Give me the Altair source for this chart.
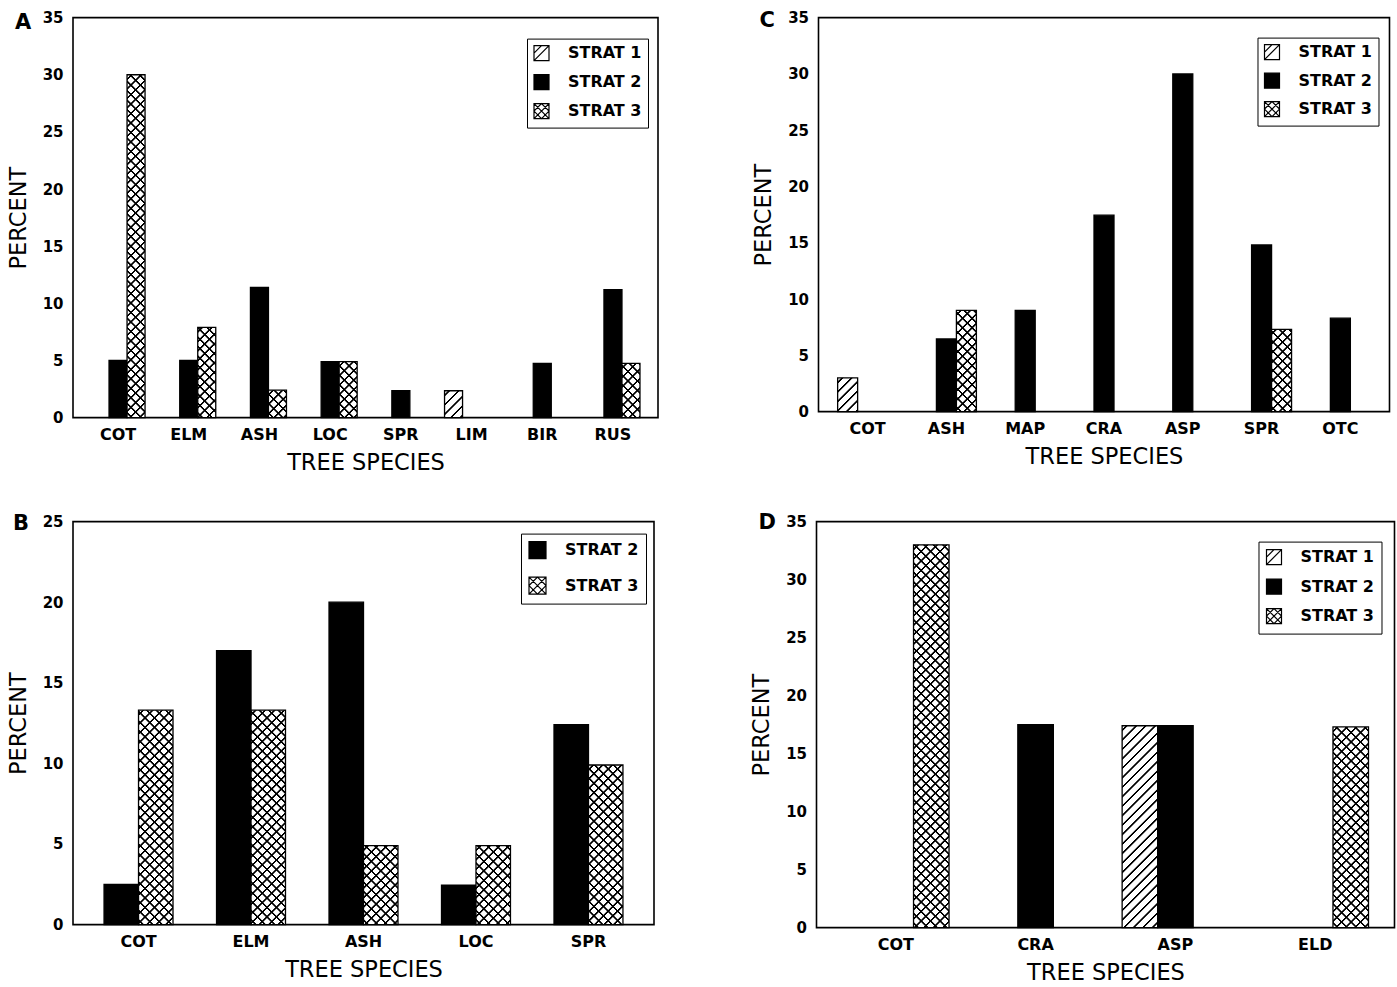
import math
import altair as alt

# ---------------- data ----------------
A_species = ["COT", "ELM", "ASH", "LOC", "SPR", "LIM", "BIR", "RUS"]
A_strat1 = [0, 0, 0, 0, 0, 2.35, 0, 0]
A_strat2 = [5.0, 5.0, 11.4, 4.9, 2.35, 0, 4.75, 11.2]
A_strat3 = [30.0, 7.9, 2.4, 4.9, 0, 0, 0, 4.75]

C_species = ["COT", "ASH", "MAP", "CRA", "ASP", "SPR", "OTC"]
C_strat1 = [3.0, 0, 0, 0, 0, 0, 0]
C_strat2 = [0, 6.45, 9.0, 17.45, 30.0, 14.8, 8.3]
C_strat3 = [0, 9.0, 0, 0, 0, 7.3, 0]

B_species = ["COT", "ELM", "ASH", "LOC", "SPR"]
B_strat2 = [2.5, 17.0, 20.0, 2.45, 12.4]
B_strat3 = [13.3, 13.3, 4.9, 4.9, 9.9]

D_species = ["COT", "CRA", "ASP", "ELD"]
D_strat1 = [0, 0, 17.4, 0]
D_strat2 = [0, 17.5, 17.4, 0]
D_strat3 = [33.0, 0, 0, 17.3]

# ---------------- styling helpers ----------------
FONT = "DejaVu Sans"
TRANSP = "rgba(0,0,0,0)"
INK = "#000000"

SYMBOL_FILL = {"STRAT 1": "white", "STRAT 2": "black", "STRAT 3": "white"}
SYMBOL_PATH = {
    "STRAT 1": "M-1,-1H1V1H-1Z M-1,1L1,-1 M-1,0L0,-1",
    "STRAT 2": "M-1,-1H1V1H-1Z",
    "STRAT 3": "M-1,-1H1V1H-1Z M-1,-1L1,1 M-1,1L1,-1 M0,-1L1,0L0,1L-1,0Z",
}


def stripes(w, h, back, period=6.7, half=0.55, ramp=0.5):
    """Linear gradient (bounding-box units) that draws 45 degree hatch lines."""
    L = (w + h) / math.sqrt(2)
    t = (w + h) / (w * w + h * h)
    if back:
        x1, y1, x2, y2 = 0.0, 1.0, t * w, 1.0 - t * h
    else:
        x1, y1, x2, y2 = 0.0, 0.0, t * w, t * h
    stops = [{"offset": 0, "color": TRANSP}]
    c = period * 0.5
    while c - half - ramp < L:
        for d, col in ((-half - ramp, TRANSP), (-half, INK), (half, INK), (half + ramp, TRANSP)):
            o = min(max((c + d) / L, 0.0), 1.0)
            stops.append({"offset": round(o, 5), "color": col})
        c += period
    stops.append({"offset": 1, "color": TRANSP})
    return {"gradient": "linear", "x1": round(x1, 5), "y1": round(y1, 5),
            "x2": round(x2, 5), "y2": round(y2, 5), "stops": stops}


def panel(letter, species, series, ymax, W, H, pi, po, lx, ly, lpad, lrow, lsym,
          tdx, tdy):
    strats = list(series.keys())
    n = len(species)
    step = W / (n - pi + 2 * po)
    bw = step * (1 - pi) / len(strats)
    rows = []
    for strat, vals in series.items():
        for sp, v in zip(species, vals):
            if v <= 0:
                continue
            h = v * H / ymax
            row = {"species": sp, "strat": strat, "value": v,
                   "base": "black" if strat == "STRAT 2" else "white"}
            if strat in ("STRAT 1", "STRAT 3"):
                row["g1"] = stripes(bw, h, back=False)
            if strat == "STRAT 3":
                row["g2"] = stripes(bw, h, back=True)
            rows.append(row)
    data = alt.Data(values=rows)

    base = alt.Chart(data).encode(
        x=alt.X("species:N", sort=species,
                scale=alt.Scale(domain=species, paddingInner=pi, paddingOuter=po),
                axis=alt.Axis(title="TREE SPECIES", labelAngle=0, labelFontSize=16,
                              labelPadding=9, titlePadding=9)),
        xOffset=alt.XOffset("strat:N",
                            scale=alt.Scale(domain=strats, paddingInner=0, paddingOuter=0)),
        y=alt.Y("value:Q", scale=alt.Scale(domain=[0, ymax], nice=False),
                axis=alt.Axis(title="PERCENT", values=list(range(0, ymax + 1, 5)),
                              labelFontSize=15, labelPadding=10, titlePadding=12,
                              labelFlush=False, labelOverlap=False)),
    )
    bars = base.mark_bar(stroke="black", strokeWidth=1.3).encode(
        fill=alt.Fill("base:N", scale=None))
    hatch1 = base.mark_bar(strokeWidth=0).encode(
        fill=alt.Fill("g1:N", scale=None)).transform_filter("datum.g1 != null")
    hatch2 = base.mark_bar(strokeWidth=0).encode(
        fill=alt.Fill("g2:N", scale=None)).transform_filter("datum.g2 != null")

    leg = alt.Legend(title=None, orient="none", legendX=lx, legendY=ly,
                     strokeColor="black", fillColor="white", padding=lpad,
                     rowPadding=lrow, symbolSize=lsym, labelOffset=18,
                     labelFont=FONT, labelFontSize=16, labelFontWeight="bold",
                     labelColor="black", symbolStrokeColor="black",
                     symbolStrokeWidth=1.2, cornerRadius=0)
    key = alt.Chart(data).mark_point(filled=True, stroke="black", strokeWidth=1.2,
                                     opacity=1).encode(
        fill=alt.Fill("strat:N",
                      scale=alt.Scale(domain=strats, range=[SYMBOL_FILL[s] for s in strats]),
                      legend=leg),
        shape=alt.Shape("strat:N",
                        scale=alt.Scale(domain=strats, range=[SYMBOL_PATH[s] for s in strats]),
                        legend=leg),
    ).transform_filter("false")

    tag = alt.Chart(alt.Data(values=[{"panel": letter}])).mark_text(
        align="left", baseline="alphabetic", font=FONT, fontSize=21,
        fontWeight="bold", color="black",
    ).encode(text="panel:N", x=alt.value(tdx), y=alt.value(tdy))

    return alt.layer(bars, hatch1, hatch2, key, tag).properties(width=W, height=H)


pA = panel("A", A_species,
           {"STRAT 1": A_strat1, "STRAT 2": A_strat2, "STRAT 3": A_strat3},
           35, 585, 400, 0.236, 0.255, 454, 21, 6, 8, 225, -58, 11)
pC = panel("C", C_species,
           {"STRAT 1": C_strat1, "STRAT 2": C_strat2, "STRAT 3": C_strat3},
           35, 571, 394, 0.239, 0.243, 439, 20, 6, 7.5, 225, -59, 9)
pB = panel("B", B_species,
           {"STRAT 2": B_strat2, "STRAT 3": B_strat3},
           25, 581, 403, 0.387, 0.276, 448, 12, 7, 12.5, 289, -60, 8)
pD = panel("D", D_species,
           {"STRAT 1": D_strat1, "STRAT 2": D_strat2, "STRAT 3": D_strat3},
           35, 578, 406, 0.238, 0.186, 442, 20, 7, 8.5, 225, -58, 7.5)


def independent(c):
    return c.resolve_scale(xOffset="independent", fill="independent",
                           shape="independent").resolve_legend(
        fill="independent", shape="independent")


row1 = independent(alt.hconcat(pA, pC, spacing=92.5))
row2 = independent(alt.hconcat(pB, pD, spacing=94.5))

chart = independent(alt.vconcat(row1, row2, spacing=35)).properties(
    padding={"left": 6, "top": 8.6, "right": 0, "bottom": 0},
    background="white",
).configure_view(
    stroke="black", strokeWidth=1.6
).configure_axis(
    domain=False, ticks=False, grid=False,
    labelFont=FONT, labelFontWeight="bold", labelColor="black",
    titleFont=FONT, titleFontWeight="normal", titleFontSize=22.5, titleColor="black",
)

chart.save("out.html", embed_options={"renderer": "svg", "actions": False})
